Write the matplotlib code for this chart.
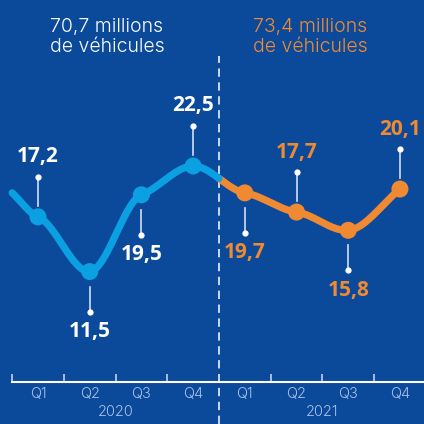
import matplotlib.pyplot as plt
import matplotlib.transforms as mtransforms
import numpy as np

plt.rcParams['font.family'] = ['Open Sans', 'DejaVu Sans']
plt.rcParams['lines.scale_dashes'] = False

# Quarterly sales, millions of vehicles
quarters = ['Q1', 'Q2', 'Q3', 'Q4', 'Q1', 'Q2', 'Q3', 'Q4']
years = ['2020', '2021']
sales = [17.2, 11.5, 19.5, 22.5, 19.7, 17.7, 15.8, 20.1]
prev_quarter = 19.7  # trend stub coming in from Q4 2019
year_totals = ['70,7', '73,4']
label_above = [True, False, False, True, False, True, False, True]

BG = '#0b4a9b'
BLUE = '#0aa0e2'
ORANGE = '#f08a32'
TICK_TXT = '#a9c1e6'
THIN = ['Inter', 'Open Sans', 'DejaVu Sans']


def smooth(x, y, tension=0.65, n=40):
    # cardinal-style cubic Hermite through the points
    x = np.asarray(x, float)
    y = np.asarray(y, float)
    m = np.empty_like(y)
    m[1:-1] = (1 - tension) * (y[2:] - y[:-2]) / (x[2:] - x[:-2])
    m[0] = (y[1] - y[0]) / (x[1] - x[0])
    m[-1] = (y[-1] - y[-2]) / (x[-1] - x[-2])
    xs, ys = [], []
    t = np.linspace(0, 1, n + 1)
    for i in range(len(x) - 1):
        h = x[i + 1] - x[i]
        h00 = 2 * t**3 - 3 * t**2 + 1
        h10 = t**3 - 2 * t**2 + t
        h01 = -2 * t**3 + 3 * t**2
        h11 = t**3 - t**2
        seg = h00 * y[i] + h10 * h * m[i] + h01 * y[i + 1] + h11 * h * m[i + 1]
        start = 0 if i == 0 else 1
        xs.extend(x[i] + t[start:] * h)
        ys.extend(seg[start:])
    return np.array(xs), np.array(ys)


fig = plt.figure(figsize=(4.24, 4.24), dpi=100, facecolor=BG)
ax = fig.add_axes([0, 0, 1, 1], facecolor=BG)
ax.set_xlim(-0.735, 7.465)
ax.set_ylim(-4.375, 39.79)

idx = np.arange(len(sales))
cx, cy = smooth(np.r_[-0.5, idx], np.r_[prev_quarter, sales])
split = 3.5
ax.plot(cx[cx >= split], cy[cx >= split], color=ORANGE, lw=5.2,
        solid_capstyle='round', solid_joinstyle='round', zorder=3)
ax.plot(cx[cx <= split], cy[cx <= split], color=BLUE, lw=5.2,
        solid_capstyle='round', solid_joinstyle='round', zorder=4)

colors = [BLUE if i < 4 else ORANGE for i in idx]
ax.scatter(idx, sales, s=150, c=colors, zorder=5, linewidths=0)

# value labels with leader lines
inv = ax.transData.inverted()
for i, v in enumerate(sales):
    sign = 1 if label_above[i] else -1
    near = 11 if label_above[i] else 15
    start = mtransforms.offset_copy(ax.transData, fig, y=sign * near, units='dots')
    end = mtransforms.offset_copy(ax.transData, fig, y=sign * 40, units='dots')
    d0 = inv.transform(start.transform((i, v)))
    d1 = inv.transform(end.transform((i, v)))
    ax.plot([d0[0], d1[0]], [d0[1], d1[1]], color='#d3def0', lw=1.2, zorder=2)
    ax.plot(d1[0], d1[1], 'o', color='white', ms=4.5, mec='none', zorder=2)
    txt_tr = mtransforms.offset_copy(ax.transData, fig, y=sign * 60, units='dots')
    ax.text(i, v, f'{v:.1f}'.replace('.', ','), transform=txt_tr,
            ha='center', va='center', fontsize=15, fontweight='bold',
            color='white' if i < 4 else ORANGE, zorder=6)

# separator between years
ax.axvline(split, ymin=0, ymax=0.868, color='white', lw=1.1,
           linestyle=(0, (6, 4)), zorder=1)

# x axis on the zero line
for s in ['top', 'right', 'left']:
    ax.spines[s].set_visible(False)
ax.spines['bottom'].set_position(('data', 0))
ax.spines['bottom'].set_bounds(-0.5, 7.465)
ax.spines['bottom'].set_color('white')
ax.spines['bottom'].set_linewidth(1.5)
ax.set_yticks([])
ax.set_xticks(np.arange(-0.5, 7, 1))
ax.set_xticklabels([])
ax.tick_params(axis='x', which='major', direction='in', length=6, width=1.2,
               color='#c3d1ea')
ax.set_xticks(idx, minor=True)
ax.set_xticklabels(quarters, minor=True)
ax.tick_params(axis='x', which='minor', length=0, pad=3.5, labelsize=10.5,
               labelcolor=TICK_TXT)
for lbl in ax.get_xticklabels(minor=True):
    lbl.set_family(THIN)
    lbl.set_fontweight(300)

year_tr = mtransforms.blended_transform_factory(ax.transData, fig.transFigure)
for k, yr in enumerate(years):
    ax.text(1.5 + 4 * k, 1 - 412 / 424, yr, transform=year_tr, ha='center',
            va='center', fontsize=10.5, color=TICK_TXT, family=THIN,
            fontweight=300)

# yearly totals
for k, tot in enumerate(year_totals):
    fig.text((107 + 203 * k) / 424, 1 - 37 / 424, f'{tot} millions\nde véhicules',
             ha='center', va='center', fontsize=14, family=THIN, fontweight=300,
             linespacing=1.12, color='white' if k == 0 else ORANGE)

fig.savefig('out.png', dpi=100, facecolor=BG)
